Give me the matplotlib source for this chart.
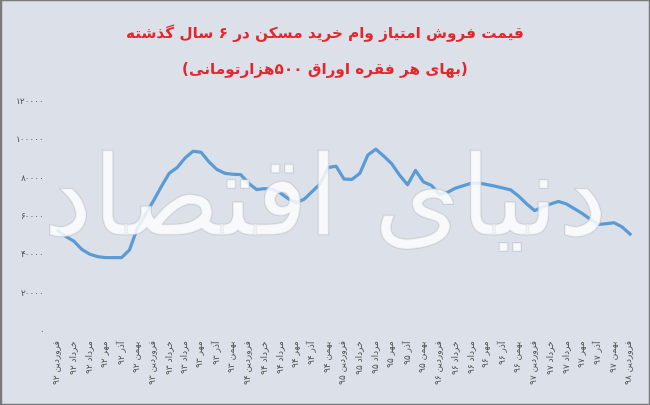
import numpy as np
import matplotlib
matplotlib.use('Agg')
import matplotlib.pyplot as plt
import matplotlib.patheffects as pe

# monthly price of one 500k-toman housing-loan certificate, farvardin 92 .. farvardin 98
prices = [51500, 48500, 46100, 41800, 39300, 38000, 37500, 37500, 37500, 41500,
          53000, 60000, 67000, 74500, 81500, 84500, 89500, 93000, 92500, 87500,
          83500, 81500, 81000, 80800, 76300, 73000, 73500, 73200, 71200, 68200,
          66200, 68000, 72000, 76000, 84500, 85200, 78500, 78300, 81500, 91000,
          94100, 90500, 86500, 80500, 75500, 83000, 77000, 75200, 70500, 71500,
          73700, 75000, 76300, 76400, 75600, 74800, 73800, 72800, 69500, 65500,
          62000, 64000, 65500, 66800, 65500, 63000, 60500, 57500, 54800, 55200,
          55700, 53500, 49800]

months = ['فروردین', 'خرداد', 'مرداد', 'مهر', 'آذر', 'بهمن']
years = ['۹۲', '۹۳', '۹۴', '۹۵', '۹۶', '۹۷']
x_labels = [m + ' ' + y for y in years for m in months] + ['فروردین ۹۸']

y_ticks = [0, 20000, 40000, 60000, 80000, 100000, 120000]
y_labels = ['۰', '۲۰۰۰۰', '۴۰۰۰۰', '۶۰۰۰۰', '۸۰۰۰۰', '۱۰۰۰۰۰', '۱۲۰۰۰۰']

title1 = 'قیمت فروش امتیاز وام خرید مسکن در ۶ سال گذشته'
title2 = '(بهای هر فقره اوراق ۵۰۰هزارتومانی)'
watermark = 'دنیای اقتصاد'

# minimal arabic shaping + reordering (matplotlib has no bidi support)
forms = {
    'ا': ('\uFE8D', '\uFE8E'), 'آ': ('\uFE81', '\uFE82'),
    'د': ('\uFEA9', '\uFEAA'), 'ذ': ('\uFEAB', '\uFEAC'),
    'ر': ('\uFEAD', '\uFEAE'), 'ز': ('\uFEAF', '\uFEB0'),
    'و': ('\uFEED', '\uFEEE'),
    'ب': ('\uFE8F', '\uFE90', '\uFE91', '\uFE92'),
    'ت': ('\uFE95', '\uFE96', '\uFE97', '\uFE98'),
    'خ': ('\uFEA5', '\uFEA6', '\uFEA7', '\uFEA8'),
    'س': ('\uFEB1', '\uFEB2', '\uFEB3', '\uFEB4'),
    'ش': ('\uFEB5', '\uFEB6', '\uFEB7', '\uFEB8'),
    'ص': ('\uFEB9', '\uFEBA', '\uFEBB', '\uFEBC'),
    'ف': ('\uFED1', '\uFED2', '\uFED3', '\uFED4'),
    'ق': ('\uFED5', '\uFED6', '\uFED7', '\uFED8'),
    'ل': ('\uFEDD', '\uFEDE', '\uFEDF', '\uFEE0'),
    'م': ('\uFEE1', '\uFEE2', '\uFEE3', '\uFEE4'),
    'ن': ('\uFEE5', '\uFEE6', '\uFEE7', '\uFEE8'),
    'ه': ('\uFEE9', '\uFEEA', '\uFEEB', '\uFEEC'),
    'ی': ('\uFBFC', '\uFBFD', '\uFBFE', '\uFBFF'),
    'ک': ('\uFB8E', '\uFB8F', '\uFB90', '\uFB91'),
    'گ': ('\uFB92', '\uFB93', '\uFB94', '\uFB95'),
}


def rtl(text):
    out = []
    for i, c in enumerate(text):
        if c not in forms:
            out.append(c)
            continue
        f = forms[c]
        prev = text[i - 1] if i > 0 else ''
        nxt = text[i + 1] if i + 1 < len(text) else ''
        jp = prev in forms and len(forms[prev]) == 4
        jn = len(f) == 4 and nxt in forms
        if jp and jn:
            out.append(f[3])
        elif jp:
            out.append(f[1])
        elif jn:
            out.append(f[2])
        else:
            out.append(f[0])
    # reverse, keeping digit runs left-to-right
    runs = []
    for c in out:
        d = c.isdigit()
        if runs and d and runs[-1][0]:
            runs[-1][1].append(c)
        else:
            runs.append([d, [c]])
    swap = {'(': ')', ')': '('}
    return ''.join(''.join(swap.get(c, c) for c in r[1]) for r in runs[::-1])


plt.rcParams['font.family'] = ['DejaVu Sans']

bg = '#dce1e9'
fig = plt.figure(figsize=(6.5, 4.06), dpi=100, facecolor=bg)
ax = fig.add_axes([54 / 650, 1 - 330.5 / 406, 580 / 650, 230 / 406])
ax.set_facecolor(bg)

x = np.arange(len(prices))
ax.plot(x, prices, color='#5b9bd5', linewidth=2.3, solid_joinstyle='round', zorder=3)

ax.set_xlim(-0.5, 72.5)
ax.set_ylim(0, 120000)
ax.set_xticks(np.arange(0, len(prices), 2))
ax.set_xticklabels([rtl(s) for s in x_labels], rotation=90, fontsize=6.5, color='#505050')
ax.set_yticks(y_ticks)
ax.set_yticklabels([rtl(s) for s in y_labels], fontsize=6.5, color='#505050')
ax.tick_params(length=0, pad=7)
for s in ax.spines.values():
    s.set_visible(False)

fig.text(0.5, 1 - 33 / 406, rtl(title1), ha='center', va='center', fontsize=11,
         fontweight='bold', color='#e3262d')
fig.text(0.5, 1 - 70 / 406, rtl(title2), ha='center', va='center', fontsize=11,
         fontweight='bold', color='#e3262d')

# logo watermark across the plot, sized to span the plot width
wm = fig.text(325 / 650, 1 - 205 / 406, rtl(watermark), ha='center', va='center',
              fontsize=60, color='white', alpha=0.6, zorder=5,
              path_effects=[pe.withStroke(linewidth=1.2, foreground='#b8bec8', alpha=0.6)])
fig.canvas.draw()
w = wm.get_window_extent().width
wm.set_fontsize(60 * 565 / w)

fig.add_artist(plt.Rectangle((0, 0), 1, 1, transform=fig.transFigure, fill=False,
                             edgecolor='#7a7a7a', linewidth=2.5, zorder=10))

fig.savefig('out.png', dpi=100, facecolor=bg)
